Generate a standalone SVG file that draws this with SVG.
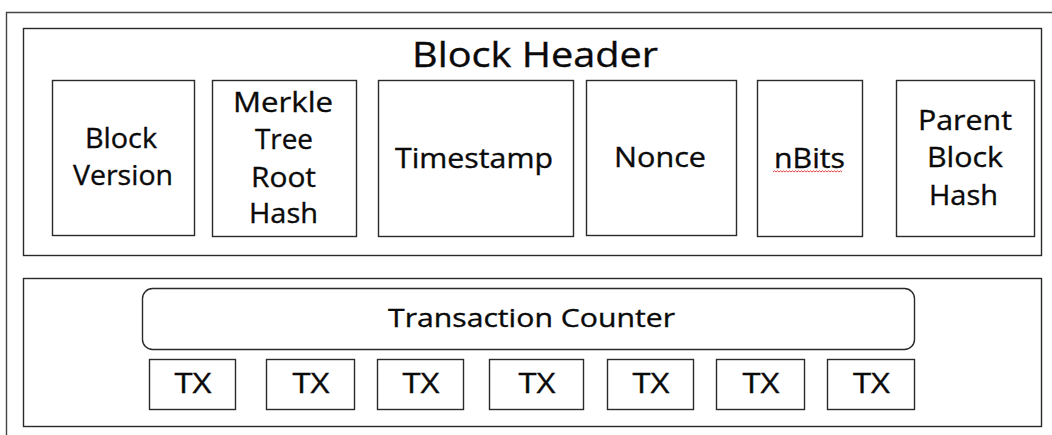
<svg xmlns="http://www.w3.org/2000/svg" width="1052" height="435" viewBox="0 0 1052 435">
<style>
.b{fill:#fff;stroke:#2a2a2a;stroke-width:1.4}
.f{fill:none;stroke:#444;stroke-width:1.4}
text{font-family:"Open Sans","Noto Sans","DejaVu Sans",sans-serif;fill:#0a0a0a;stroke:#0a0a0a;stroke-width:0.35;text-anchor:middle}
.t{font-size:28px}
.h{font-size:35px}
.c{font-size:26px}
</style>
<rect width="1052" height="435" fill="#fff"/>
<path class="f" d="M6.5,435 V12.5 H1052"/>
<g id="block-header">
<rect class="b" x="23.5" y="28.5" width="1018" height="227"/>
<text class="h" x="535" y="67" textLength="246" lengthAdjust="spacingAndGlyphs">Block Header</text>
</g>
<g id="block-version">
<rect class="b" x="52.5" y="80.5" width="142" height="155"/>
<text class="t" x="121" y="148" textLength="72" lengthAdjust="spacingAndGlyphs">Block</text>
<text class="t" x="123" y="185" textLength="100" lengthAdjust="spacingAndGlyphs">Version</text>
</g>
<g id="merkle-root">
<rect class="b" x="212.5" y="80.5" width="144" height="156"/>
<text class="t" x="283" y="112" textLength="100" lengthAdjust="spacingAndGlyphs">Merkle</text>
<text class="t" x="284" y="149" textLength="58" lengthAdjust="spacingAndGlyphs">Tree</text>
<text class="t" x="283.5" y="187" textLength="65" lengthAdjust="spacingAndGlyphs">Root</text>
<text class="t" x="283.5" y="223" textLength="69" lengthAdjust="spacingAndGlyphs">Hash</text>
</g>
<g id="timestamp">
<rect class="b" x="378.5" y="80.5" width="195" height="156"/>
<text class="t" x="474" y="168" textLength="158" lengthAdjust="spacingAndGlyphs">Timestamp</text>
</g>
<g id="nonce">
<rect class="b" x="586.5" y="80.5" width="150" height="155"/>
<text class="t" x="660" y="167" textLength="92" lengthAdjust="spacingAndGlyphs">Nonce</text>
</g>
<g id="nbits">
<rect class="b" x="757.5" y="80.5" width="105" height="156"/>
<text class="t" x="809.5" y="168" textLength="71" lengthAdjust="spacingAndGlyphs">nBits</text>
<path d="M773,172 l1.5,-1.2 1.5,1.2 1.5,-1.2 1.5,1.2 1.5,-1.2 1.5,1.2 1.5,-1.2 1.5,1.2 1.5,-1.2 1.5,1.2 1.5,-1.2 1.5,1.2 1.5,-1.2 1.5,1.2 1.5,-1.2 1.5,1.2 1.5,-1.2 1.5,1.2 1.5,-1.2 1.5,1.2 1.5,-1.2 1.5,1.2 1.5,-1.2 1.5,1.2 1.5,-1.2 1.5,1.2 1.5,-1.2 1.5,1.2 1.5,-1.2 1.5,1.2 1.5,-1.2 1.5,1.2 1.5,-1.2 1.5,1.2 1.5,-1.2 1.5,1.2 1.5,-1.2 1.5,1.2 1.5,-1.2 1.5,1.2 1.5,-1.2 1.5,1.2 1.5,-1.2 1.5,1.2 1.5,-1.2 1.5,1.2" fill="none" stroke="#e03030" stroke-width="0.9"/>
</g>
<g id="parent-hash">
<rect class="b" x="896.5" y="80.5" width="138" height="156"/>
<text class="t" x="965" y="130" textLength="94" lengthAdjust="spacingAndGlyphs">Parent</text>
<text class="t" x="965" y="167" textLength="76" lengthAdjust="spacingAndGlyphs">Block</text>
<text class="t" x="963.5" y="205" textLength="69" lengthAdjust="spacingAndGlyphs">Hash</text>
</g>
<g id="transactions">
<rect class="b" x="23.5" y="278.5" width="1018" height="148"/>
</g>
<g id="transaction-counter">
<rect class="b" x="142.5" y="288.5" width="772" height="61" rx="10"/>
<text class="c" x="531.5" y="327" textLength="287" lengthAdjust="spacingAndGlyphs">Transaction Counter</text>
</g>
<g id="tx1"><rect class="b" x="149.5" y="359.5" width="86" height="50"/><text class="t" x="193" y="393" textLength="37" lengthAdjust="spacingAndGlyphs">TX</text></g>
<g id="tx2"><rect class="b" x="266.5" y="359.5" width="88" height="50"/><text class="t" x="311" y="393" textLength="37" lengthAdjust="spacingAndGlyphs">TX</text></g>
<g id="tx3"><rect class="b" x="377.5" y="359.5" width="86" height="50"/><text class="t" x="421" y="393" textLength="37" lengthAdjust="spacingAndGlyphs">TX</text></g>
<g id="tx4"><rect class="b" x="489.5" y="359.5" width="94" height="50"/><text class="t" x="537" y="393" textLength="37" lengthAdjust="spacingAndGlyphs">TX</text></g>
<g id="tx5"><rect class="b" x="607.5" y="359.5" width="86" height="50"/><text class="t" x="651" y="393" textLength="37" lengthAdjust="spacingAndGlyphs">TX</text></g>
<g id="tx6"><rect class="b" x="716.5" y="359.5" width="88" height="50"/><text class="t" x="761" y="393" textLength="37" lengthAdjust="spacingAndGlyphs">TX</text></g>
<g id="tx7"><rect class="b" x="827.5" y="359.5" width="87" height="50"/><text class="t" x="871.5" y="393" textLength="37" lengthAdjust="spacingAndGlyphs">TX</text></g>
<g id="connectors"/>
</svg>
